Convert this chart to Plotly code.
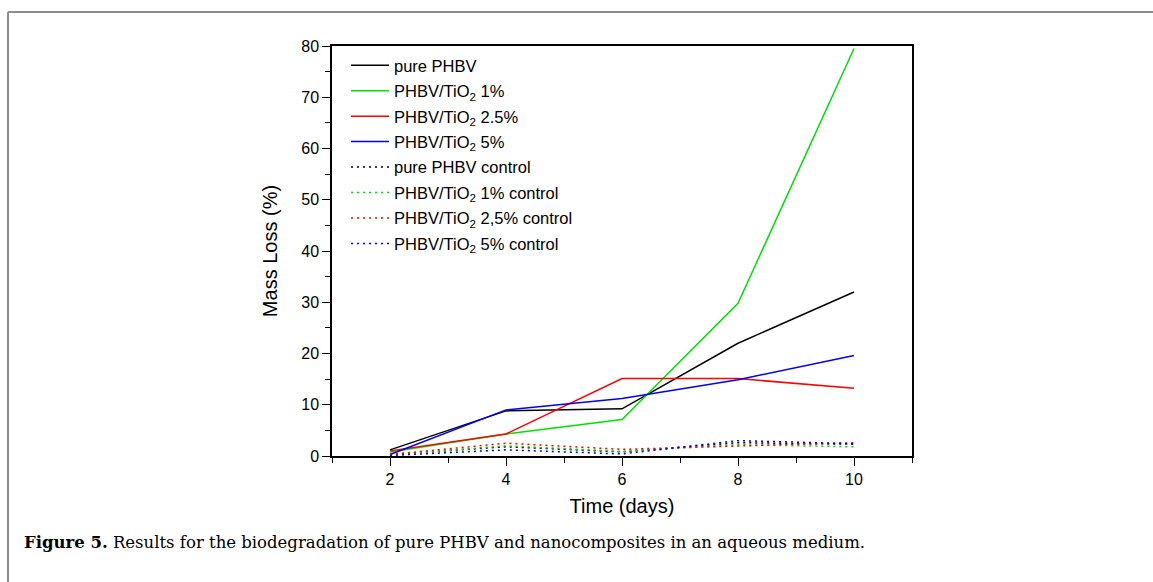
import plotly.graph_objects as go

days = [2, 4, 6, 8, 10]

pure = [1.2, 8.8, 9.2, 22.0, 32.0]
tio1 = [0.8, 4.3, 7.1, 29.8, 79.5]
tio25 = [1.0, 4.3, 15.1, 15.1, 13.2]
tio5 = [0.3, 9.0, 11.2, 14.9, 19.6]

pure_c = [0.3, 1.8, 0.8, 2.6, 2.3]
tio1_c = [0.2, 2.0, 0.9, 2.2, 1.8]
tio25_c = [0.3, 2.5, 1.3, 2.0, 2.6]
tio5_c = [0.1, 1.2, 0.4, 3.0, 2.4]

names = [
    "pure PHBV",
    "PHBV/TiO<sub>2</sub> 1%",
    "PHBV/TiO<sub>2</sub> 2.5%",
    "PHBV/TiO<sub>2</sub> 5%",
    "pure PHBV control",
    "PHBV/TiO<sub>2</sub> 1% control",
    "PHBV/TiO<sub>2</sub> 2,5% control",
    "PHBV/TiO<sub>2</sub> 5% control",
]
series = [pure, tio1, tio25, tio5, pure_c, tio1_c, tio25_c, tio5_c]
colors = ["#000000", "#00e000", "#ff0000", "#0000ee"] * 2
dashes = ["solid"] * 4 + ["2px,4px"] * 4

fig = go.Figure()
for i, (nm, ys, c, d) in enumerate(zip(names, series, colors, dashes)):
    fig.add_trace(go.Scatter(
        x=days, y=ys, mode="lines", name=nm,
        line=dict(color=c, width=1.5, dash=d),
        legendgroup=f"g{i}",
    ))

W, H = 1153, 582
L, R, T, B = 332, 912, 46, 456

def px(xp):
    return (xp - L) / (R - L)

def py(yp):
    return (B - yp) / (B - T)

fig.update_layout(
    width=W, height=H,
    margin=dict(l=L, r=W - R, t=T, b=H - B),
    paper_bgcolor="white", plot_bgcolor="white",
    font=dict(family="Liberation Sans, Arial, sans-serif", color="black", size=16),
    showlegend=True,
    legend=dict(
        x=px(346), y=py(48), xanchor="left", yanchor="top",
        bgcolor="rgba(0,0,0,0)", borderwidth=0,
        font=dict(size=16.5), traceorder="grouped", tracegroupgap=1,
        itemwidth=38,
    ),
    xaxis=dict(
        range=[1, 11], tickmode="array", tickvals=[2, 4, 6, 8, 10],
        ticks="outside", ticklen=8, tickwidth=1.2, tickcolor="black",
        minor=dict(tickvals=[1, 3, 5, 7, 9, 11], ticks="outside", ticklen=5, tickwidth=1.2, tickcolor="black"),
        showgrid=False, zeroline=False,
        showline=True, linecolor="black", linewidth=1.5, mirror=True,
        title=dict(text="Time (days)", font=dict(size=20), standoff=12),
        tickfont=dict(size=16),
    ),
    yaxis=dict(
        range=[0, 80], tickmode="array", tickvals=[0, 10, 20, 30, 40, 50, 60, 70, 80],
        ticks="outside", ticklen=8, tickwidth=1.2, tickcolor="black",
        minor=dict(tickvals=[5, 15, 25, 35, 45, 55, 65, 75], ticks="outside", ticklen=5, tickwidth=1.2, tickcolor="black"),
        showgrid=False, zeroline=False,
        showline=True, linecolor="black", linewidth=1.5, mirror=True,
        title=dict(text="Mass Loss (%)", font=dict(size=20), standoff=18),
        tickfont=dict(size=16),
    ),
    shapes=[
        dict(type="line", xref="paper", yref="paper", x0=px(8), x1=px(1153), y0=py(12), y1=py(12),
             line=dict(color="#8c8c8c", width=2)),
        dict(type="line", xref="paper", yref="paper", x0=px(8), x1=px(8), y0=py(12), y1=py(582),
             line=dict(color="#8c8c8c", width=2)),
    ],
    annotations=[
        dict(xref="paper", yref="paper", x=px(22), y=py(542), xanchor="left", yanchor="middle",
             showarrow=False, align="left",
             text="<b>Figure 5.</b> Results for the biodegradation of pure PHBV and nanocomposites in an aqueous medium.",
             font=dict(family="DejaVu Serif, Liberation Serif, serif", size=16.5, color="black")),
    ],
)

fig.write_html("out.html")
